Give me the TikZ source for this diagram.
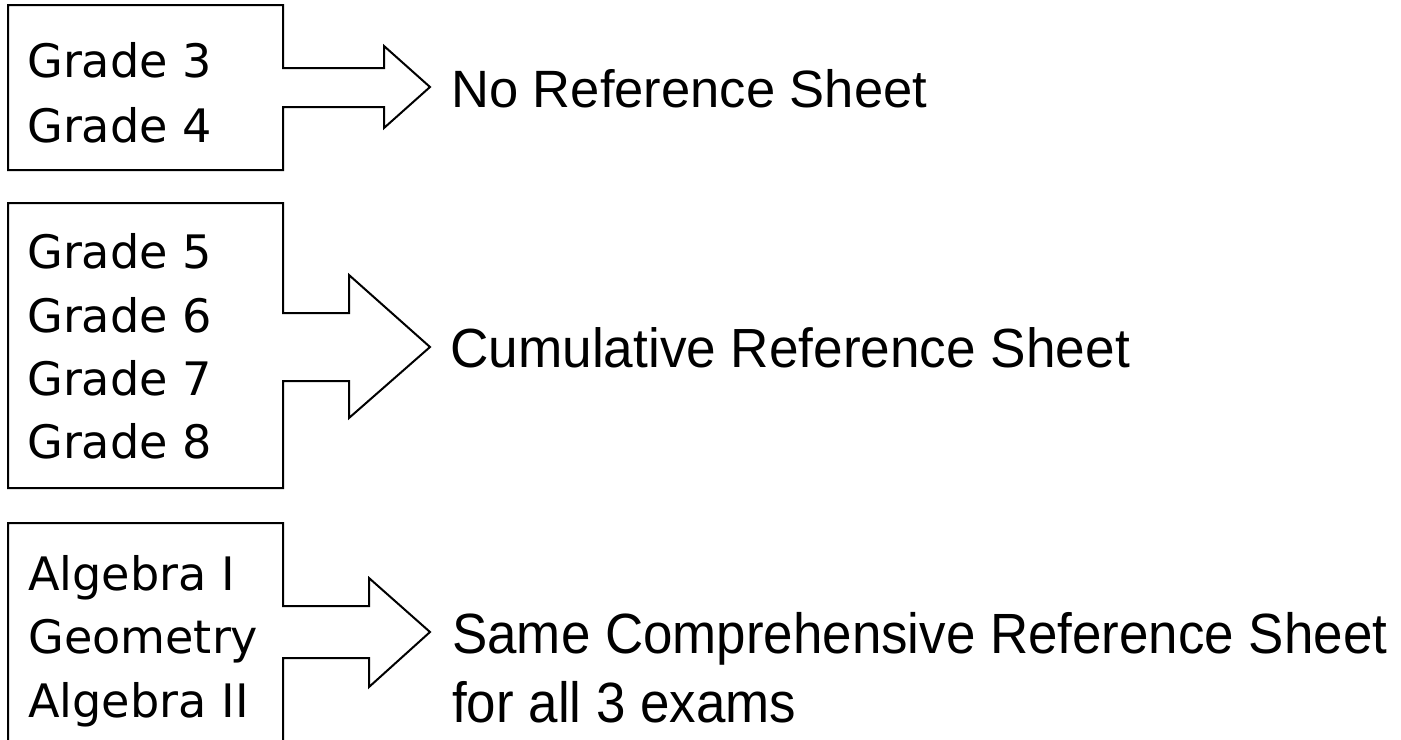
\documentclass[tikz,border=0pt]{standalone}
\usepackage{fontspec}
\setmainfont{Liberation Sans}
\newfontfamily\leftfont{DejaVu Sans}
\begin{document}
\begin{tikzpicture}[x=0.75pt,y=-0.75pt,
  outline/.style={draw=black,line width=1.5pt,line join=miter},
  lefttxt/.style={anchor=base west,inner sep=0pt,font=\leftfont\fontsize{34.6}{40}\selectfont},
  righttxt/.style={anchor=base west,inner sep=0pt,font=\fontsize{39.4}{48}\selectfont}]
\path[clip] (0,0) rectangle (1401,739);
\fill[white] (0,0) rectangle (1401,739);
% group 1
\draw[outline] (8,5) -- (283,5) -- (283,68) -- (384,68) -- (384,46) -- (430,87)
  -- (384,128) -- (384,107) -- (283,107) -- (283,170) -- (8,170) -- cycle;
\node[lefttxt] (g3) at (27,77) {Grade 3};
\node[lefttxt] (g4) at (27,142) {Grade 4};
\node[righttxt] (nors) at (451,107) {No Reference Sheet};
% group 2
\draw[outline] (8,203) -- (283,203) -- (283,313) -- (349,313) -- (349,275) -- (430,347)
  -- (349,418) -- (349,381) -- (283,381) -- (283,488) -- (8,488) -- cycle;
\node[lefttxt] (g5) at (27,268) {Grade 5};
\node[lefttxt] (g6) at (27,332) {Grade 6};
\node[lefttxt] (g7) at (27,395) {Grade 7};
\node[lefttxt] (g8) at (27,458) {Grade 8};
\node[righttxt] (cumu) at (450,367) {\scalebox{1.012}[1.05]{Cumulative Reference Sheet}};
% group 3
\draw[outline] (8,523) -- (283,523) -- (283,606) -- (369,606) -- (369,578) -- (430,632)
  -- (369,687) -- (369,658) -- (283,658) -- (283,770) -- (8,770) -- cycle;
\node[lefttxt] (alg1) at (28,590) {Algebra I};
\node[lefttxt] (geom) at (28,653) {Geometry};
\node[lefttxt] (alg2) at (28,717) {Algebra II};
\node[righttxt] (same1) at (452,653) {\scalebox{1.007}[1.08]{Same Comprehensive Reference Sheet}};
\node[righttxt] (same2) at (452,722) {\scalebox{1.007}[1.08]{for all 3 exams}};
\end{tikzpicture}
\end{document}
